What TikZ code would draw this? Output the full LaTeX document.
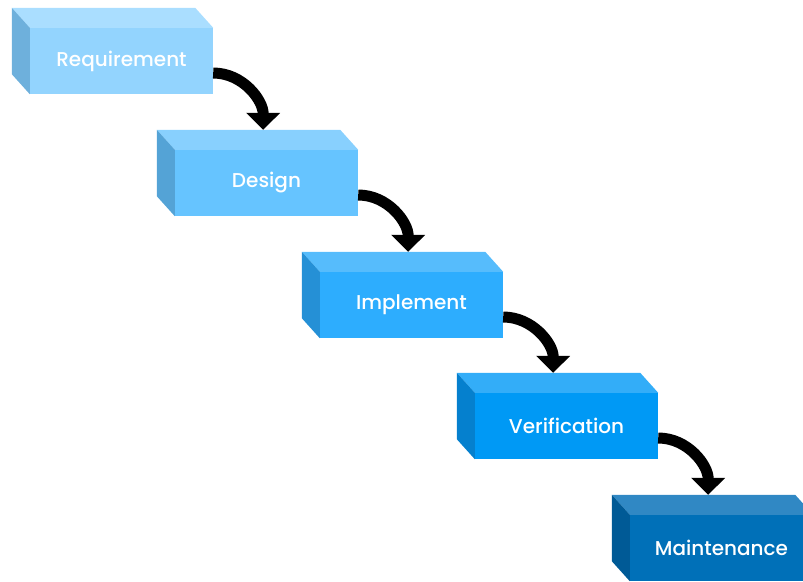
\documentclass[tikz,border=0pt]{standalone}
\usepackage{fontspec}
\setmainfont{Poppins}
\newfontfamily\stagefont{Poppins Medium}
\usetikzlibrary{calc}
\usetikzlibrary{arrows.meta}

\definecolor{frontA}{HTML}{93D4FE}\definecolor{topA}{HTML}{AADEFF}\definecolor{sideA}{HTML}{6EB0DC}
\definecolor{frontB}{HTML}{66C4FF}\definecolor{topB}{HTML}{88D0FE}\definecolor{sideB}{HTML}{54A3D6}
\definecolor{frontC}{HTML}{2DADFE}\definecolor{topC}{HTML}{56BCFC}\definecolor{sideC}{HTML}{2590D6}
\definecolor{frontD}{HTML}{0099F5}\definecolor{topD}{HTML}{33ADF8}\definecolor{sideD}{HTML}{0580CE}
\definecolor{frontE}{HTML}{0070B8}\definecolor{topE}{HTML}{3088C4}\definecolor{sideE}{HTML}{005A96}

\tikzset{
    stage/.style={minimum width=183pt,minimum height=66pt,inner sep=0pt,
        text=white,font=\stagefont\fontsize{20}{22}\selectfont},
    flow/.style={line width=11pt,-{Triangle[width=33pt,length=17pt]}}
}

\begin{document}
\begin{tikzpicture}[x=1pt,y=-1pt]
        \clip (0,0) rectangle (803,581);
        % 五个阶段的方块
        \foreach \name/\txt/\cx/\cy/\col in {req/Requirement/121.5/61/A,des/Design/266.5/183/B,
            imp/Implement/411.5/305/C,ver/Verification/566.5/426/D,mnt/Maintenance/721.5/548/E}{
            \node [stage,fill=front\col] (\name) at (\cx,\cy) {\txt};
            \fill [top\col] (\name.north west) -- (\name.north east) -- ++(-18pt,20pt)
                -- ($(\name.north west)+(-18pt,20pt)$) -- cycle;
            \fill [side\col] (\name.north west) -- ++(-18pt,20pt)
                -- ($(\name.south west)+(-18pt,20pt)$) -- (\name.south west) -- cycle;
        }
        % 阶段之间的弯箭头
        \foreach \a/\b in {req/des,des/imp,imp/ver,ver/mnt}{
            \draw [flow] ([yshift=-12pt]\a.east) to[out=0,in=90]
                ($(\a.east |- \b.north)+(50pt,20pt)$);
        }

    \end{tikzpicture}
\end{document}
